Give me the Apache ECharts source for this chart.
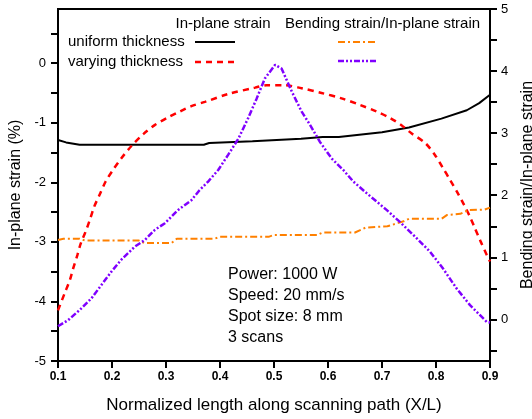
<!DOCTYPE html>
<html>
<head>
<meta charset="utf-8">
<script src="https://cdn.jsdelivr.net/npm/echarts@6/dist/echarts.min.js"></script>
<style>
html, body { margin: 0; padding: 0; background: #fff; }
#chart { width: 532px; height: 419px; }
</style>
</head>
<body>
<div id="chart"></div>
<script>
// in-plane strain (%) vs X/L, left axis
const uniformStrain = [
  [0.1, -1.29], [0.115, -1.33], [0.14, -1.37], [0.37, -1.37], [0.38, -1.34],
  [0.46, -1.31], [0.55, -1.27], [0.59, -1.24], [0.62, -1.24], [0.70, -1.16],
  [0.75, -1.08], [0.81, -0.93], [0.857, -0.79], [0.88, -0.67], [0.9, -0.53]
];
const varyingStrain = [
  [0.1, -4.15], [0.112, -3.87], [0.122, -3.64], [0.128, -3.45], [0.136, -3.22],
  [0.142, -3.03], [0.151, -2.83], [0.159, -2.63], [0.167, -2.41], [0.177, -2.21],
  [0.188, -1.99], [0.202, -1.79], [0.217, -1.60], [0.236, -1.39], [0.258, -1.19],
  [0.279, -1.04], [0.304, -0.91], [0.326, -0.81], [0.347, -0.72], [0.372, -0.65],
  [0.414, -0.52], [0.465, -0.41], [0.486, -0.37], [0.52, -0.37], [0.551, -0.42],
  [0.588, -0.50], [0.625, -0.59], [0.659, -0.70], [0.69, -0.81], [0.715, -0.92],
  [0.736, -1.04], [0.755, -1.18], [0.78, -1.34], [0.798, -1.54], [0.813, -1.76],
  [0.826, -1.96], [0.839, -2.16], [0.852, -2.38], [0.863, -2.58], [0.872, -2.77],
  [0.883, -3.00], [0.894, -3.22], [0.9, -3.33]
];
// bending strain / in-plane strain, right axis
const uniformRatio = [
  [0.1, 1.28], [0.11, 1.30], [0.14, 1.30], [0.15, 1.27], [0.25, 1.27],
  [0.26, 1.23], [0.31, 1.23], [0.32, 1.30], [0.39, 1.30], [0.40, 1.33],
  [0.49, 1.33], [0.50, 1.36], [0.58, 1.36], [0.59, 1.40], [0.65, 1.40],
  [0.67, 1.48], [0.71, 1.50], [0.74, 1.58], [0.75, 1.62], [0.81, 1.62],
  [0.82, 1.68], [0.845, 1.70], [0.86, 1.76], [0.89, 1.77], [0.9, 1.80]
];
const varyingRatio = [
  [0.1, -0.11], [0.119, -0.01], [0.14, 0.15], [0.162, 0.34], [0.18, 0.55],
  [0.199, 0.77], [0.217, 0.96], [0.242, 1.17], [0.261, 1.28], [0.279, 1.44],
  [0.298, 1.55], [0.322, 1.76], [0.347, 1.92], [0.362, 2.08], [0.378, 2.22],
  [0.397, 2.41], [0.415, 2.65], [0.434, 2.91], [0.452, 3.24], [0.468, 3.56],
  [0.483, 3.88], [0.502, 4.10], [0.514, 4.04], [0.533, 3.67], [0.551, 3.35],
  [0.567, 3.13], [0.585, 2.86], [0.607, 2.59], [0.628, 2.41], [0.647, 2.22],
  [0.672, 2.03], [0.709, 1.76], [0.733, 1.57], [0.764, 1.31], [0.789, 1.09],
  [0.813, 0.82], [0.838, 0.50], [0.863, 0.23], [0.894, -0.04], [0.9, -0.05]
];

const xTicks = [0.1, 0.2, 0.3, 0.4, 0.5, 0.6, 0.7, 0.8, 0.9];
const leftLabels = [-5, -4, -3, -2, -1, 0];
const leftTicks = [-5, -4.5, -4, -3.5, -3, -2.5, -2, -1.5, -1, -0.5, 0, 0.5];
const rightLabels = [0, 1, 2, 3, 4, 5];
const rightTicks = [-0.5, 0, 0.5, 1, 1.5, 2, 2.5, 3, 3.5, 4, 4.5, 5];

const FONT = "'Liberation Sans', Arial, sans-serif";

const chart = echarts.init(document.getElementById('chart'));

chart.setOption({
  animation: false,
  backgroundColor: '#fff',
  textStyle: { fontFamily: FONT, color: '#000' },
  grid: {
    left: 58, right: 42, top: 9, bottom: 58, outerBoundsMode: 'none', containLabel: false,
    show: true, borderColor: '#000', borderWidth: 2
  },
  xAxis: {
    type: 'value', min: 0.1, max: 0.9, interval: 0.1,
    name: 'Normalized length along scanning path (X/L)',
    nameLocation: 'middle', nameGap: 36,
    nameTextStyle: { fontSize: 17, color: '#000', fontFamily: FONT },
    axisLine: { onZero: false, lineStyle: { color: '#000', width: 2 } },
    axisTick: { length: 7, lineStyle: { color: '#000', width: 2 }, customValues: xTicks },
    axisLabel: { customValues: xTicks, formatter: v => v.toFixed(1), fontSize: 12, fontWeight: 'bold', color: '#000', margin: 10 },
    splitLine: { show: false }
  },
  yAxis: [{
    type: 'value', min: -5, max: 0.91, position: 'left',
    name: 'In-plane strain (%)', nameLocation: 'middle', nameGap: 30, nameRotate: 90,
    nameTextStyle: { fontSize: 16, color: '#000', fontFamily: FONT },
    axisLine: { show: true, onZero: false, lineStyle: { color: '#000', width: 2 } },
    axisTick: { show: true, length: 7, lineStyle: { color: '#000', width: 2 }, customValues: leftTicks },
    axisLabel: { customValues: leftLabels, fontSize: 13, color: '#000', margin: 12 },
    splitLine: { show: false }
  }, {
    type: 'value', min: -0.67, max: 5, position: 'right',
    name: 'Bending strain/In-plane strain', nameLocation: 'middle', nameGap: 26, nameRotate: 90,
    nameTextStyle: { fontSize: 16, color: '#000', fontFamily: FONT },
    axisLine: { show: true, onZero: false, lineStyle: { color: '#000', width: 2 } },
    axisTick: { show: true, length: 7, lineStyle: { color: '#000', width: 2 }, customValues: rightTicks },
    axisLabel: { customValues: rightLabels, fontSize: 13, color: '#000', margin: 11 },
    splitLine: { show: false }
  }],
  series: [{
    name: 'uniform thickness', type: 'line', yAxisIndex: 0, data: uniformStrain,
    showSymbol: false, lineStyle: { color: '#000', width: 2 }
  }, {
    name: 'varying thickness', type: 'line', yAxisIndex: 0, data: varyingStrain,
    showSymbol: false, smooth: 0.3, lineStyle: { color: '#ff0000', width: 2.5, type: [6, 5] }
  }, {
    name: 'uniform ratio', type: 'line', yAxisIndex: 1, data: uniformRatio,
    showSymbol: false, lineStyle: { color: '#ff8000', width: 2, type: [7, 3, 2, 3] }
  }, {
    name: 'varying ratio', type: 'line', yAxisIndex: 1, data: varyingRatio,
    showSymbol: false, lineStyle: { color: '#8000ff', width: 2.5, type: [6, 2, 2, 2, 2, 2] }
  }],
  graphic: [
    // legend headers and rows
    { type: 'text', x: 223, y: 24, style: { text: 'In-plane strain', font: '15px ' + FONT, fill: '#000', align: 'center', verticalAlign: 'middle' } },
    { type: 'text', x: 285, y: 24, style: { text: 'Bending strain/In-plane strain', font: '15px ' + FONT, fill: '#000', verticalAlign: 'middle' } },
    { type: 'text', x: 68, y: 42, style: { text: 'uniform thickness', font: '15px ' + FONT, fill: '#000', verticalAlign: 'middle' } },
    { type: 'text', x: 68, y: 62, style: { text: 'varying thickness', font: '15px ' + FONT, fill: '#000', verticalAlign: 'middle' } },
    { type: 'line', shape: { x1: 195, y1: 42, x2: 235, y2: 42 }, style: { stroke: '#000', lineWidth: 2 } },
    { type: 'line', shape: { x1: 195, y1: 62, x2: 238, y2: 62 }, style: { stroke: '#ff0000', lineWidth: 2.5, lineDash: [6, 5] } },
    { type: 'line', shape: { x1: 338, y1: 42, x2: 375, y2: 42 }, style: { stroke: '#ff8000', lineWidth: 2, lineDash: [7, 3, 2, 3] } },
    { type: 'line', shape: { x1: 338, y1: 61, x2: 378, y2: 61 }, style: { stroke: '#8000ff', lineWidth: 2.5, lineDash: [6, 2, 2, 2, 2, 2] } },
    // process parameters
    { type: 'text', x: 228, y: 275, style: { text: 'Power: 1000 W', font: '16px ' + FONT, fill: '#000', verticalAlign: 'middle' } },
    { type: 'text', x: 228, y: 296, style: { text: 'Speed: 20 mm/s', font: '16px ' + FONT, fill: '#000', verticalAlign: 'middle' } },
    { type: 'text', x: 228, y: 317, style: { text: 'Spot size: 8 mm', font: '16px ' + FONT, fill: '#000', verticalAlign: 'middle' } },
    { type: 'text', x: 228, y: 338, style: { text: '3 scans', font: '16px ' + FONT, fill: '#000', verticalAlign: 'middle' } }
  ]
});
</script>
</body>
</html>
